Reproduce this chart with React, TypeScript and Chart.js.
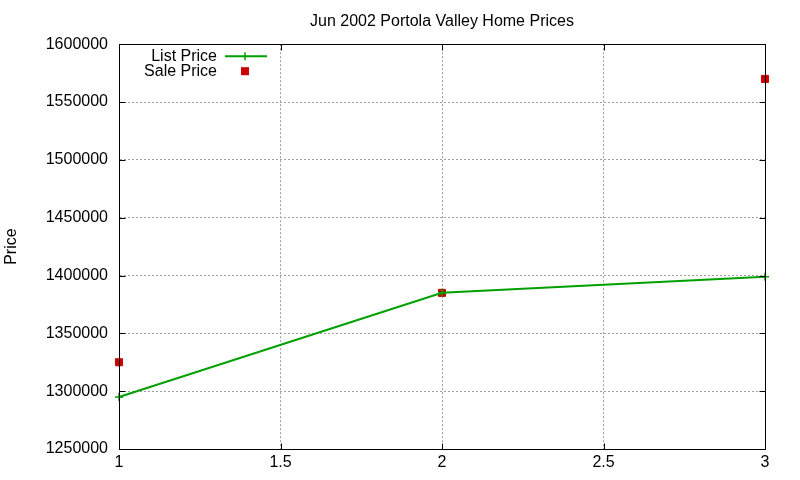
import React, { useEffect, useRef } from 'react';
import { Chart, registerables } from 'chart.js';

Chart.register(...registerables);

const chartTitle = 'Jun 2002 Portola Valley Home Prices';
const months = [1, 2, 3];
const listPrices = [1295000, 1385000, 1399000];
const salePrices = [1325000, 1385000, 1570000];
const yTicks = [1250000, 1300000, 1350000, 1400000, 1450000, 1500000, 1550000, 1600000];
const xTicks = [1, 1.5, 2, 2.5, 3];

const FONT = '"Liberation Sans", Arial, sans-serif';
const GREEN = '#00a000';
const RED = '#cc0000';

// gnuplot-like frame, inward tick marks and key
const gnuplotFrame = {
	id: 'gnuplotFrame',
	afterLayout(chart: any) {
		// centre the title over the plot area, like gnuplot
		if (chart.titleBlock) {
			chart.titleBlock.left = chart.chartArea.left;
			chart.titleBlock.right = chart.chartArea.right;
		}
	},
	afterDraw(chart: any) {
		const { ctx, chartArea: a, scales } = chart;
		const L = Math.round(a.left) + 0.5;
		const R = Math.round(a.right) + 0.5;
		const T = Math.round(a.top) + 0.5;
		const B = Math.round(a.bottom) + 0.5;
		ctx.save();
		ctx.strokeStyle = '#000';
		ctx.lineWidth = 1;
		ctx.strokeRect(L, T, R - L, B - T);
		ctx.beginPath();
		scales.y.ticks.forEach((t: any) => {
			const y = Math.round(scales.y.getPixelForValue(t.value)) + 0.5;
			ctx.moveTo(L, y);
			ctx.lineTo(L + 6, y);
			ctx.moveTo(R, y);
			ctx.lineTo(R - 6, y);
		});
		scales.x.ticks.forEach((t: any) => {
			const x = Math.round(scales.x.getPixelForValue(t.value)) + 0.5;
			ctx.moveTo(x, B);
			ctx.lineTo(x, B - 6);
			ctx.moveTo(x, T);
			ctx.lineTo(x, T + 6);
		});
		ctx.stroke();

		// key
		const textRight = a.left + 98;
		const sampleX = a.left + 126;
		const row1 = a.top + 12;
		const row2 = a.top + 27;
		ctx.font = '16px ' + FONT;
		ctx.fillStyle = '#000';
		ctx.textAlign = 'right';
		ctx.textBaseline = 'middle';
		const ds = chart.data.datasets;
		ctx.fillText(ds[0].label, textRight, row1);
		ctx.fillText(ds[1].label, textRight, row2);

		ctx.strokeStyle = GREEN;
		ctx.lineWidth = 2;
		ctx.beginPath();
		ctx.moveTo(a.left + 106, row1);
		ctx.lineTo(a.left + 148, row1);
		ctx.stroke();
		ctx.lineWidth = 1.5;
		ctx.beginPath();
		ctx.moveTo(sampleX, row1 - 4);
		ctx.lineTo(sampleX, row1 + 4);
		ctx.stroke();

		ctx.fillStyle = RED;
		ctx.fillRect(sampleX - 4, row2 - 4, 8, 8);
		ctx.restore();
	}
};

export default function App() {
	const chartRef = useRef<HTMLCanvasElement>(null);
	const chartInstance = useRef<Chart | null>(null);

	useEffect(() => {
		if (chartInstance.current) {
			chartInstance.current.destroy();
		}
		if (!chartRef.current) return;
		const ctx = chartRef.current.getContext('2d');
		if (!ctx) return;

		chartInstance.current = new Chart(ctx, {
			type: 'line',
			data: {
				datasets: [
					{
						label: 'List Price',
						data: months.map((m, i) => ({ x: m, y: listPrices[i] })),
						borderColor: GREEN,
						backgroundColor: GREEN,
						borderWidth: 2,
						pointStyle: 'cross',
						pointRadius: 4,
						pointBorderWidth: 1.5,
						pointBorderColor: GREEN,
						tension: 0,
						clip: false
					},
					{
						label: 'Sale Price',
						data: months.map((m, i) => ({ x: m, y: salePrices[i] })),
						showLine: false,
						borderColor: RED,
						backgroundColor: RED,
						pointStyle: 'rect',
						pointRadius: 5,
						pointBorderWidth: 1,
						clip: false
					}
				]
			},
			options: {
				animation: false,
				responsive: true,
				maintainAspectRatio: false,
				layout: { padding: { top: 0, right: 35, bottom: 0, left: 0 } },
				plugins: {
					legend: { display: false },
					tooltip: { enabled: false },
					title: {
						display: true,
						text: chartTitle,
						color: '#000',
						font: { family: FONT, size: 16, weight: 'normal' },
						padding: { top: 12, bottom: 13 }
					}
				},
				scales: {
					x: {
						type: 'linear',
						min: 1,
						max: 3,
						afterBuildTicks: (scale: any) => {
							scale.ticks = xTicks.map((v) => ({ value: v }));
						},
						afterFit: (scale: any) => {
							scale.height = 31;
						},
						ticks: {
							color: '#000',
							padding: 4,
							font: { family: FONT, size: 16 },
							callback: (v: any) => String(v),
							maxRotation: 0
						},
						grid: { color: '#a0a0a0', lineWidth: 1, drawTicks: false },
						border: { color: '#000', width: 1, dash: [2, 2] }
					},
					y: {
						type: 'linear',
						min: 1250000,
						max: 1600000,
						afterBuildTicks: (scale: any) => {
							scale.ticks = yTicks.map((v) => ({ value: v }));
						},
						afterFit: (scale: any) => {
							scale.width = 119;
						},
						ticks: {
							color: '#000',
							padding: 11,
							font: { family: FONT, size: 16 },
							callback: (v: any) => String(v)
						},
						grid: { color: '#a0a0a0', lineWidth: 1, drawTicks: false },
						border: { color: '#000', width: 1, dash: [2, 2] },
						title: {
							display: true,
							text: 'Price',
							color: '#000',
							font: { family: FONT, size: 16 },
							padding: { top: 2, bottom: 0 }
						}
					}
				}
			},
			plugins: [gnuplotFrame]
		});

		return () => {
			if (chartInstance.current) {
				chartInstance.current.destroy();
				chartInstance.current = null;
			}
		};
	}, []);

	return (
		<div style={{ position: 'fixed', left: 0, top: 0, width: '800px', height: '480px', background: '#fff' }}>
			<canvas ref={chartRef}></canvas>
		</div>
	);
}
